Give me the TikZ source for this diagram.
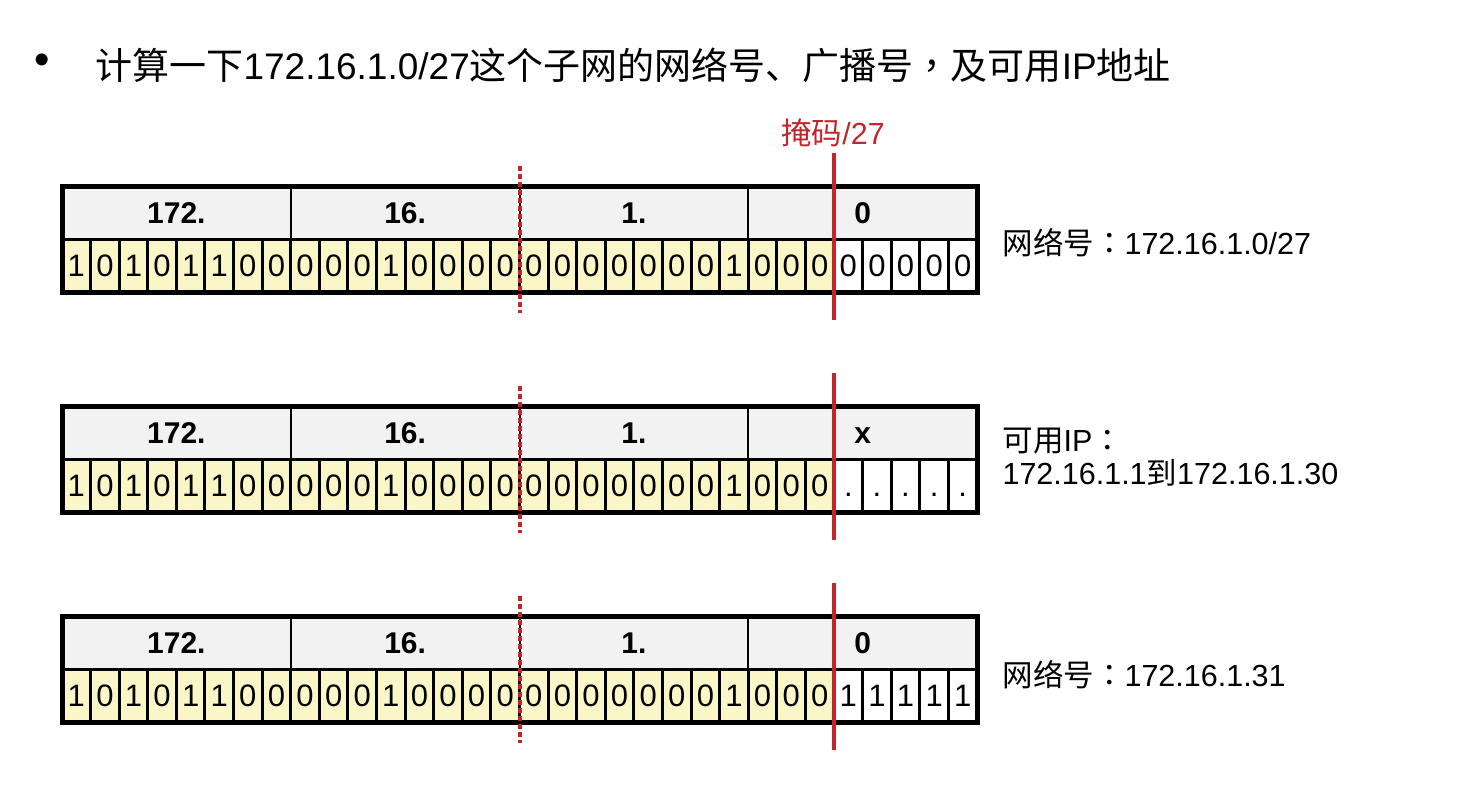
\documentclass[tikz,border=0pt]{standalone}
\usepackage{fontspec}
\setmainfont{Liberation Sans}
\newfontfamily\cjk{Noto Sans CJK SC}
\newfontfamily\cjkpunct{Noto Sans CJK TC}
\usetikzlibrary{positioning}

\definecolor{maskred}{RGB}{192,39,45}
\definecolor{bityellow}{RGB}{250,246,200}
\definecolor{headgray}{RGB}{242,242,242}

\tikzset{
  bitcell/.style={draw, line width=3pt, minimum width=28.594pt, minimum height=53pt,
    inner sep=0pt, text height=22pt, text depth=0pt, font=\fontsize{31}{33}\selectfont},
  bytecell/.style={draw, line width=2pt, fill=headgray, minimum width=228.75pt, minimum height=53pt,
    inner sep=0pt, text height=21pt, text depth=0pt, font=\bfseries\fontsize{30}{32}\selectfont},
  masksolid/.style={maskred, line width=4pt},
  maskdotted/.style={maskred, line width=4pt, dash pattern=on 5pt off 3pt},
  sidelabel/.style={anchor=west, align=left, font=\fontsize{30.5}{33}\selectfont},
}

\begin{document}
\begin{tikzpicture}[x=1pt, y=-1pt]
\useasboundingbox (0,0) rectangle (1479,811);

% title
\node[font=\fontsize{44}{46}\selectfont] (bullet) at (42,64) {•};
\node[anchor=west, font=\fontsize{37}{40}\selectfont] (title) at (92,65)
  {{\cjk 计算一下}172.16.1.0/27{\cjk 这个子网的网络号、广播号}{\cjkpunct ，}{\cjk 及可用}IP{\cjk 地址}};

% mask label
\node[text=maskred, font=\fontsize{30.5}{33}\selectfont] (masklabel) at (833,133) {{\cjk 掩码}/27};

% address rows
\foreach \row/\t/\hdr/\tail in {1/186/0/0, 2/406/x/., 3/616/0/1} {
  % header bytes
  \foreach \lbl [count=\j from 0] in {172., 16., 1., \hdr}
    \node[bytecell] (byte\row-\j) at (62+228.75*\j+114.375, \t+26.5) {\lbl};
  % network bits
  \foreach \b [count=\i from 0] in {1,0,1,0,1,1,0,0,0,0,0,1,0,0,0,0,0,0,0,0,0,0,0,1,0,0,0}
    \node[bitcell, fill=bityellow] (bit\row-\i) at (62+28.594*\i+14.297, \t+79.5) {\b};
  % host bits
  \foreach \i in {27,...,31}
    \node[bitcell, fill=white] (bit\row-\i) at (62+28.594*\i+14.297, \t+79.5) {\tail};
  % frame
  \draw[line width=5pt] (62,\t) rectangle (977,\t+106);
  % mask lines
  \draw[maskdotted] (520,\t-20) -- (520,\t+127);
  \draw[masksolid] (834,\t-33) -- (834,\t+134);
}

% results
\node[sidelabel] (net) at (999,243) {{\cjk 网络号}{\cjkpunct ：}172.16.1.0/27};
\node[sidelabel] (usable) at (999,457) {{\cjk 可用}IP{\cjkpunct ：}\\172.16.1.1{\cjk 到}172.16.1.30};
\node[sidelabel] (bcast) at (999,675) {{\cjk 网络号}{\cjkpunct ：}172.16.1.31};

\end{tikzpicture}
\end{document}
